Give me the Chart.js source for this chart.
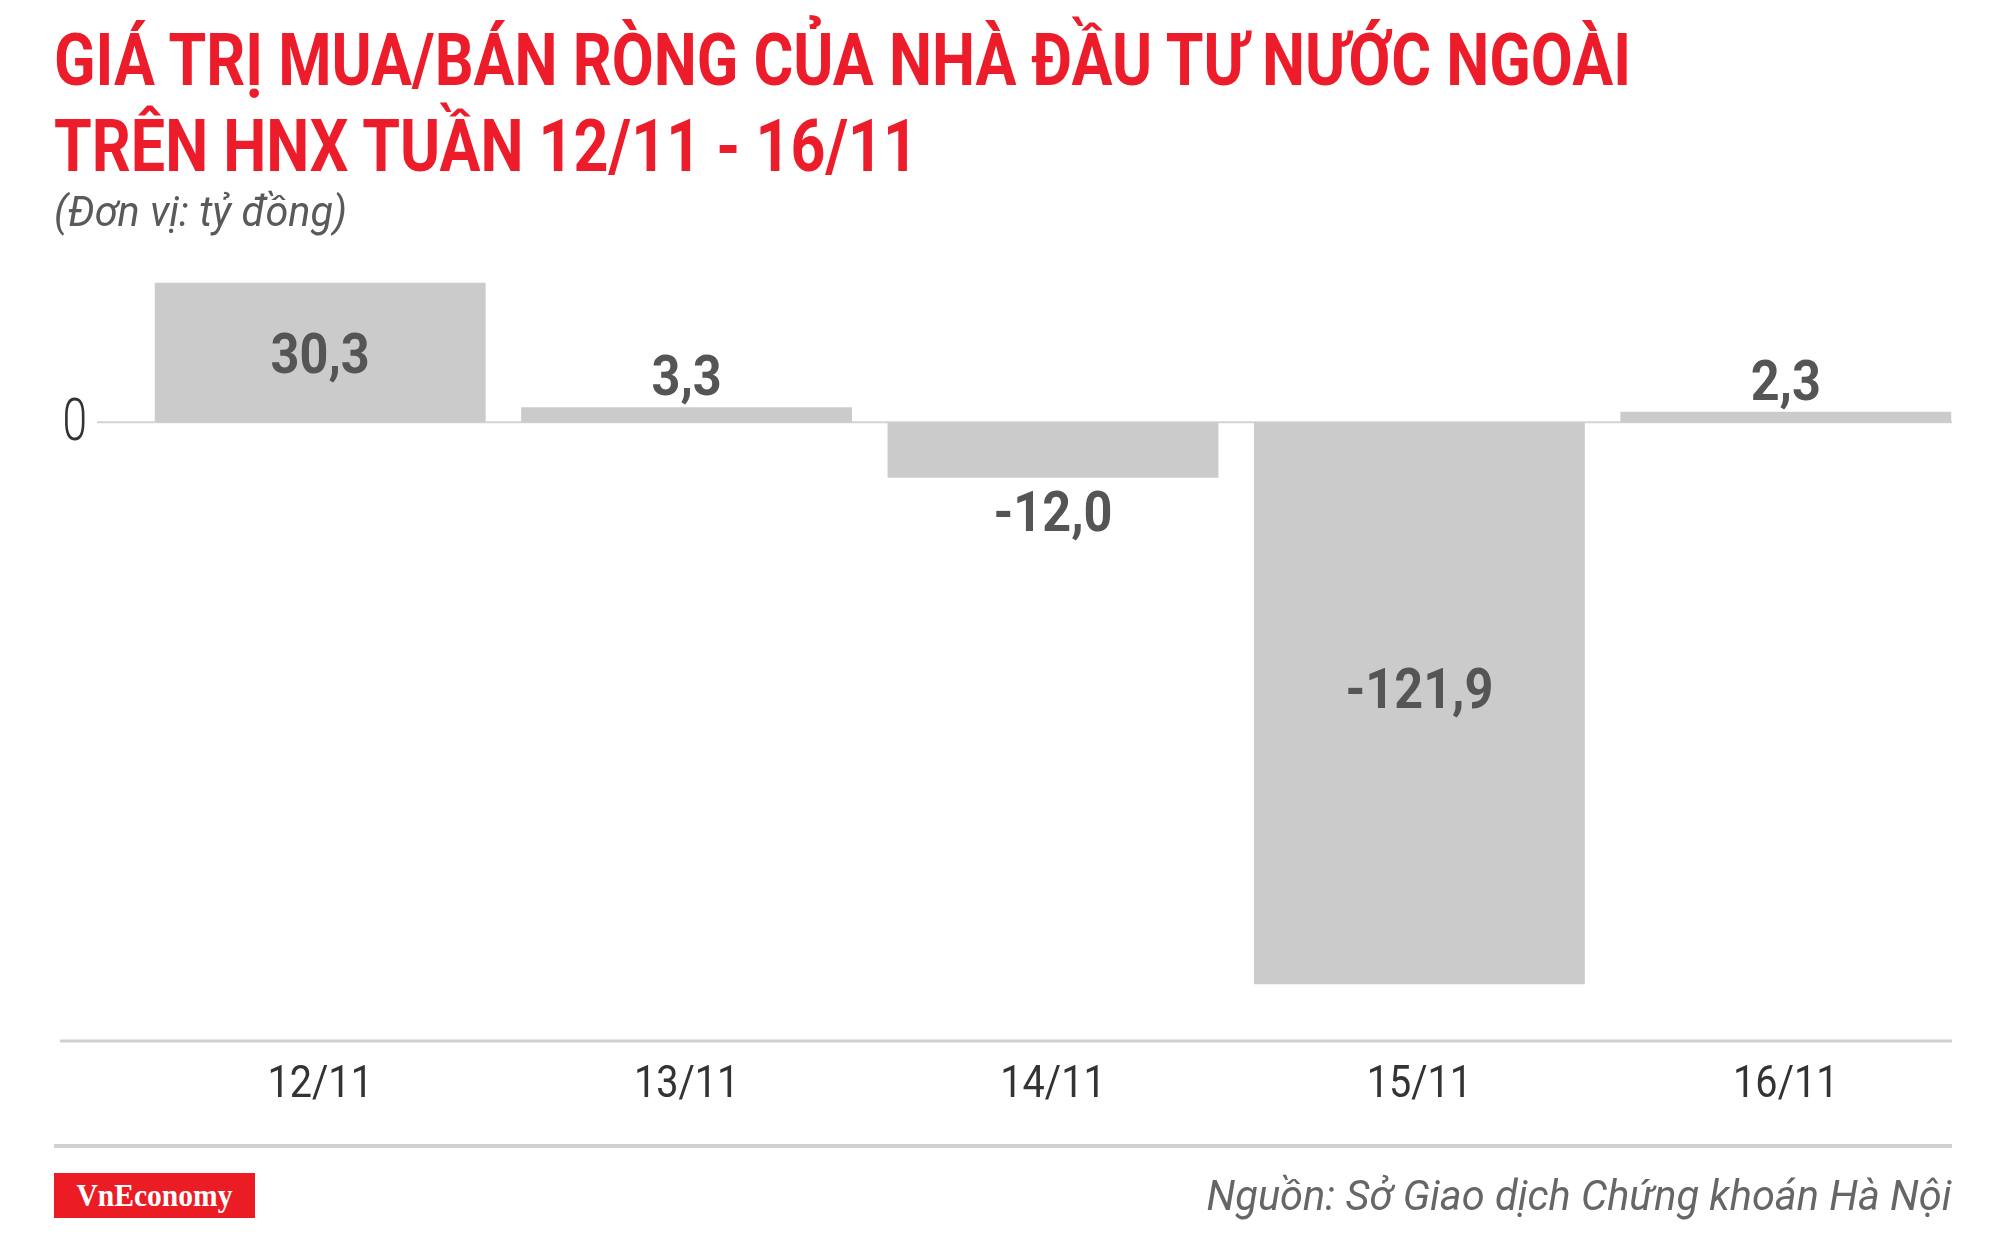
<!DOCTYPE html>
<html lang="vi">
<head>
<meta charset="utf-8">
<title>Giá trị mua/bán ròng của nhà đầu tư nước ngoài trên HNX</title>
<script src="https://cdn.jsdelivr.net/npm/chart.js@4.4.0/dist/chart.umd.min.js"></script>
<style>
  html, body { margin: 0; padding: 0; background: #fff; }
  body { width: 2000px; height: 1235px; position: relative; overflow: hidden; font-family: Roboto, "Noto Sans", sans-serif; }
  #chart { position: absolute; left: 0; top: 0; }
  .txt { position: absolute; white-space: nowrap; line-height: 1; }
  .fit-left { transform-origin: left top; }
  .fit-right { transform-origin: right top; }
  .title { color: #ec1c2a; font-weight: 700; font-size: 72px; left: 54px; }
  .sub { color: #5a5a5a; font-style: italic; font-size: 42px; left: 54px; top: 191px; }
  .source { color: #666; font-style: italic; font-size: 42px; right: 48px; top: 1175px; }
  .rule { position: absolute; left: 54px; width: 1898px; height: 4px; top: 1144px; background: #d0d0d0; }
  .logo { position: absolute; left: 54px; top: 1173px; width: 201px; height: 45px; background: #ec1c24;
          display: flex; align-items: center; justify-content: center; overflow: hidden; }
  .logo span { color: #fff; font-family: "Liberation Serif", "DejaVu Serif", serif; font-weight: 700; font-size: 32px; display: inline-block; }
</style>
</head>
<body>
<canvas id="chart" width="2000" height="1235"></canvas>

<div class="txt title fit-left" style="top:25px" data-w="1577">GIÁ TRỊ MUA/BÁN RÒNG CỦA NHÀ ĐẦU TƯ NƯỚC NGOÀI</div>
<div class="txt title fit-left" style="top:111px" data-w="864">TRÊN HNX TUẦN 12/11 - 16/11</div>
<div class="txt sub fit-left" data-w="293">(Đơn vị: tỷ đồng)</div>

<div class="rule"></div>
<div class="logo"><span data-w="156">VnEconomy</span></div>
<div class="txt source fit-right" data-w="745">Nguồn: Sở Giao dịch Chứng khoán Hà Nội</div>

<script>
// --- data ---
const categories = ['12/11', '13/11', '14/11', '15/11', '16/11'];
const netValues = [30.3, 3.3, -12.0, -121.9, 2.3];
const yTickValues = [0];

// squeeze the html texts to the condensed width of the original
document.querySelectorAll('[data-w]').forEach(el => {
    const target = parseFloat(el.dataset.w);
    const w = el.getBoundingClientRect().width;
    if (w > 0) el.style.transform = 'scaleX(' + (target / w) + ')';
});

const fmt = v => v.toFixed(1).replace('.', ',');

// draws text squeezed horizontally (no condensed font installed)
function squeezed(ctx, text, x, y, font, color, sx, align) {
    ctx.save();
    ctx.font = font;
    ctx.fillStyle = color;
    ctx.textAlign = align;
    ctx.textBaseline = 'alphabetic';
    ctx.translate(x, y);
    ctx.scale(sx, 1);
    ctx.fillText(text, 0, 0);
    ctx.restore();
}

const decorations = {
    id: 'decorations',
    beforeDatasetsDraw(chart) {
        const ctx = chart.ctx;
        const y = chart.scales.y;
        const area = chart.chartArea;
        ctx.save();
        // zero line
        ctx.strokeStyle = '#d3d3d3';
        ctx.lineWidth = 2;
        yTickValues.forEach(v => {
            const py = y.getPixelForValue(v);
            ctx.beginPath();
            ctx.moveTo(97, py);
            ctx.lineTo(1952, py);
            ctx.stroke();
        });
        // bottom axis line
        ctx.strokeStyle = '#d0d0d0';
        ctx.lineWidth = 3;
        ctx.beginPath();
        ctx.moveTo(60, area.bottom + 1);
        ctx.lineTo(1952, area.bottom + 1);
        ctx.stroke();
        ctx.restore();
    },
    afterDatasetsDraw(chart) {
        const ctx = chart.ctx;
        const x = chart.scales.x;
        const y = chart.scales.y;
        const area = chart.chartArea;
        const bars = chart.getDatasetMeta(0).data;

        // value labels
        bars.forEach((bar, i) => {
            const v = netValues[i];
            let cy;
            if (Math.abs(v) > 20) {
                cy = (bar.y + bar.base) / 2 - (v < 0 ? 15 : 0);
            } else if (v >= 0) {
                cy = bar.y - 32;
            } else {
                cy = bar.y + 33;
            }
            squeezed(ctx, fmt(v), bar.x, cy + 20, '700 56px Roboto', '#555555', 0.9, 'center');
        });

        // category labels
        categories.forEach((c, i) => {
            squeezed(ctx, c, x.getPixelForValue(i), area.bottom + 57, '400 45px Roboto', '#333333', 0.88, 'center');
        });

        // y tick label (only 0)
        yTickValues.forEach(v => {
            squeezed(ctx, String(v), 87, y.getPixelForValue(v) + 18, '300 59px Roboto', '#333333', 0.75, 'right');
        });
    }
};

new Chart(document.getElementById('chart'), {
    type: 'bar',
    data: {
        labels: categories,
        datasets: [{
            data: netValues,
            backgroundColor: '#cccbcc',
            borderWidth: 0,
            barPercentage: 0.903,
            categoryPercentage: 1
        }]
    },
    options: {
        responsive: false,
        animation: false,
        devicePixelRatio: 1,
        layout: { padding: { left: 137, right: 31, top: 238, bottom: 195 } },
        plugins: { legend: { display: false }, tooltip: { enabled: false } },
        scales: {
            x: { display: false },
            y: { display: false, min: -134, max: 40 }
        }
    },
    plugins: [decorations]
});
</script>
</body>
</html>
